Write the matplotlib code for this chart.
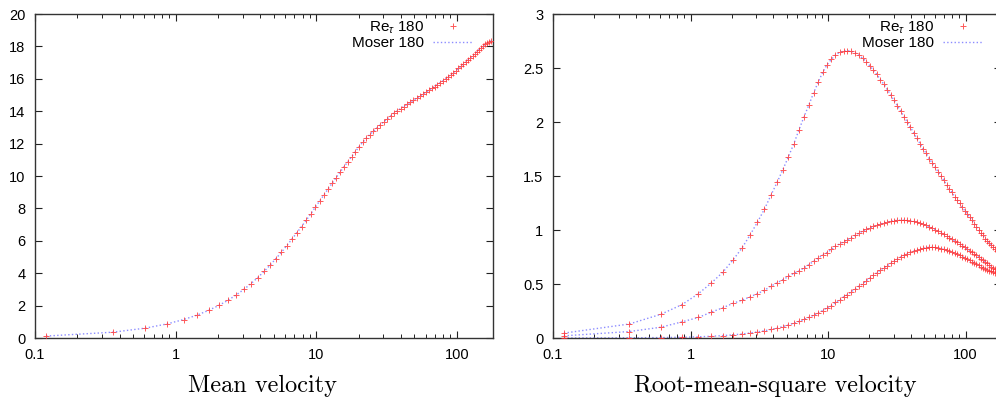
import numpy as np
import matplotlib
matplotlib.use('Agg')
import matplotlib.pyplot as plt
from matplotlib.ticker import FixedLocator, FuncFormatter, LogLocator, NullFormatter

plt.rcParams['font.family'] = ['Liberation Sans', 'DejaVu Sans']
plt.rcParams['mathtext.fontset'] = 'custom'
plt.rcParams['mathtext.rm'] = 'Liberation Sans'
plt.rcParams['mathtext.it'] = 'Liberation Sans:italic'

# ---- data (wall units) ----
yplus = [0.12, 0.36, 0.61, 0.87, 1.14, 1.42, 1.72, 2.03, 2.36, 2.70,
         3.06, 3.44, 3.84, 4.26, 4.70, 5.16, 5.65, 6.16, 6.70, 7.27,
         7.86, 8.49, 9.15, 9.84, 10.57, 11.33, 12.13, 12.97, 13.86, 14.78,
         15.76, 16.78, 17.85, 18.97, 20.15, 21.39, 22.69, 24.06, 25.49, 27.0,
         28.58, 30.24, 31.98, 33.80, 35.7, 37.7, 39.8, 42.0, 44.3, 46.7,
         49.2, 51.8, 54.5, 57.3, 60.2, 63.2, 66.3, 69.5, 72.8, 76.2,
         79.7, 83.3, 87.0, 90.8, 94.7, 98.7, 102.8, 107.0, 111.3, 115.7,
         120.2, 124.8, 129.5, 134.3, 139.2, 144.2, 149.3, 154.5, 159.8, 165.2,
         170.7, 176.3]

U_mean = [0.12, 0.36, 0.61, 0.87, 1.14, 1.41, 1.71, 2.01, 2.33, 2.66,
          3.00, 3.36, 3.73, 4.11, 4.50, 4.89, 5.29, 5.69, 6.09, 6.49,
          6.88, 7.27, 7.66, 8.07, 8.45, 8.82, 9.19, 9.55, 9.90, 10.24,
          10.57, 10.88, 11.19, 11.50, 11.80, 12.08, 12.33, 12.55, 12.76, 12.96,
          13.16, 13.35, 13.53, 13.70, 13.87, 14.02, 14.16, 14.29, 14.42, 14.55,
          14.68, 14.80, 14.92, 15.05, 15.17, 15.29, 15.41, 15.52, 15.64, 15.76,
          15.87, 15.99, 16.12, 16.25, 16.38, 16.51, 16.64, 16.77, 16.90, 17.03,
          17.16, 17.29, 17.42, 17.55, 17.68, 17.80, 17.92, 18.03, 18.13, 18.22,
          18.29, 18.34]

u_rms = [0.045, 0.13, 0.22, 0.31, 0.41, 0.51, 0.61, 0.72, 0.83, 0.95,
         1.07, 1.19, 1.32, 1.44, 1.56, 1.68, 1.80, 1.93, 2.05, 2.16,
         2.27, 2.37, 2.46, 2.53, 2.58, 2.62, 2.645, 2.655, 2.66, 2.655,
         2.64, 2.62, 2.59, 2.56, 2.52, 2.48, 2.44, 2.39, 2.35, 2.30,
         2.25, 2.20, 2.15, 2.10, 2.05, 2.00, 1.95, 1.90, 1.85, 1.80,
         1.75, 1.71, 1.66, 1.62, 1.58, 1.54, 1.50, 1.46, 1.42, 1.38,
         1.35, 1.31, 1.28, 1.25, 1.21, 1.18, 1.15, 1.12, 1.09, 1.06,
         1.03, 1.00, 0.97, 0.95, 0.92, 0.90, 0.88, 0.86, 0.84, 0.82,
         0.81, 0.80]

v_rms = [0.0005, 0.002, 0.004, 0.007, 0.011, 0.016, 0.022, 0.029, 0.037, 0.046,
         0.056, 0.067, 0.079, 0.092, 0.106, 0.121, 0.137, 0.154, 0.172, 0.191,
         0.211, 0.232, 0.254, 0.28, 0.30, 0.33, 0.35, 0.38, 0.40, 0.43,
         0.45, 0.48, 0.50, 0.53, 0.555, 0.58, 0.605, 0.63, 0.65, 0.67,
         0.69, 0.71, 0.73, 0.75, 0.765, 0.78, 0.795, 0.805, 0.815, 0.820,
         0.830, 0.836, 0.840, 0.840, 0.838, 0.834, 0.828, 0.821, 0.813, 0.805,
         0.796, 0.786, 0.776, 0.765, 0.754, 0.743, 0.731, 0.719, 0.707, 0.695,
         0.683, 0.672, 0.661, 0.651, 0.641, 0.632, 0.624, 0.617, 0.611, 0.606,
         0.603, 0.601]

w_rms = [0.02, 0.06, 0.10, 0.15, 0.19, 0.24, 0.28, 0.32, 0.35, 0.38,
         0.41, 0.44, 0.48, 0.51, 0.54, 0.57, 0.60, 0.62, 0.65, 0.68,
         0.71, 0.74, 0.77, 0.79, 0.82, 0.85, 0.87, 0.89, 0.91, 0.93,
         0.95, 0.97, 0.99, 1.005, 1.02, 1.033, 1.045, 1.055, 1.065, 1.073,
         1.08, 1.085, 1.09, 1.09, 1.09, 1.088, 1.085, 1.08, 1.072, 1.063,
         1.053, 1.042, 1.03, 1.017, 1.003, 0.99, 0.975, 0.96, 0.945, 0.93,
         0.915, 0.90, 0.885, 0.87, 0.855, 0.84, 0.825, 0.81, 0.795, 0.78,
         0.765, 0.75, 0.735, 0.72, 0.705, 0.69, 0.675, 0.66, 0.65, 0.64,
         0.635, 0.63]

xticks = [0.1, 1, 10, 100]
labels = ['Re$_\\tau$ 180', 'Moser 180']

W, H = 996, 401
fig = plt.figure(figsize=(W / 100, H / 100), dpi=100)

def px_axes(x0, x1, y0, y1):
    return fig.add_axes([x0 / W, (H - y1) / H, (x1 - x0) / W, (y1 - y0) / H])

def style(ax, ymax, ystep, fmt):
    ax.set_xscale('log')
    ax.set_xlim(0.1, 180)
    ax.set_ylim(0, ymax)
    ax.xaxis.set_major_locator(FixedLocator(xticks))
    ax.xaxis.set_major_formatter(FuncFormatter(lambda v, p: '%g' % v))
    ax.xaxis.set_minor_locator(LogLocator(base=10, subs=np.arange(2, 10)))
    ax.xaxis.set_minor_formatter(NullFormatter())
    ax.yaxis.set_major_locator(FixedLocator(np.arange(0, ymax + 1e-9, ystep)))
    ax.yaxis.set_major_formatter(FuncFormatter(fmt))
    ax.tick_params(which='both', direction='in', top=True, right=True,
                   colors='#222222', labelcolor='black', labelsize=10.5)
    ax.tick_params(which='major', length=5, width=0.8, pad=7)
    ax.tick_params(which='minor', length=3, width=0.7)
    for s in ax.spines.values():
        s.set_color('#333333')
        s.set_linewidth(1.0)

mk = dict(linestyle='none', marker='+', ms=3.8, mew=0.7, color='#ff3030', alpha=0.8, zorder=3)
ln = dict(linestyle=':', lw=1.0, color='#7070ff', alpha=0.8, zorder=2)

def draw(ax, y):
    ax.plot(yplus, y, **mk)
    ax.plot(yplus, y, **ln)

# left: mean velocity
ax1 = px_axes(35, 492.7, 14, 338)
draw(ax1, U_mean)
style(ax1, 20, 2, lambda v, p: '%d' % v)

# right: rms velocity (axes run past the cropped edge)
ax2 = px_axes(553, 1000.6, 14, 338)
for series in (u_rms, v_rms, w_rms):
    draw(ax2, series)
style(ax2, 3, 0.5, lambda v, p: '%g' % v)

for ax, anchor in ((ax1, 0.962), (ax2, 0.965)):
    h1, = ax.plot([], [], **mk)
    h2, = ax.plot([], [], **ln)
    ax.legend([h1, h2], labels, loc='upper right', bbox_to_anchor=(anchor, 0.99),
              frameon=False, markerfirst=False, fontsize=11, handlelength=2.6,
              handletextpad=0.6, labelspacing=0.0, borderaxespad=0, borderpad=0.15)

fig.text(262 / W, (H - 392) / H, 'Mean velocity', ha='center',
         va='baseline', fontsize=17.5, fontfamily='cmr10')
fig.text(775 / W, (H - 392) / H, 'Root-mean-square velocity',
         ha='center', va='baseline', fontsize=17.5, fontfamily='cmr10')

fig.savefig('out.png', dpi=100)
